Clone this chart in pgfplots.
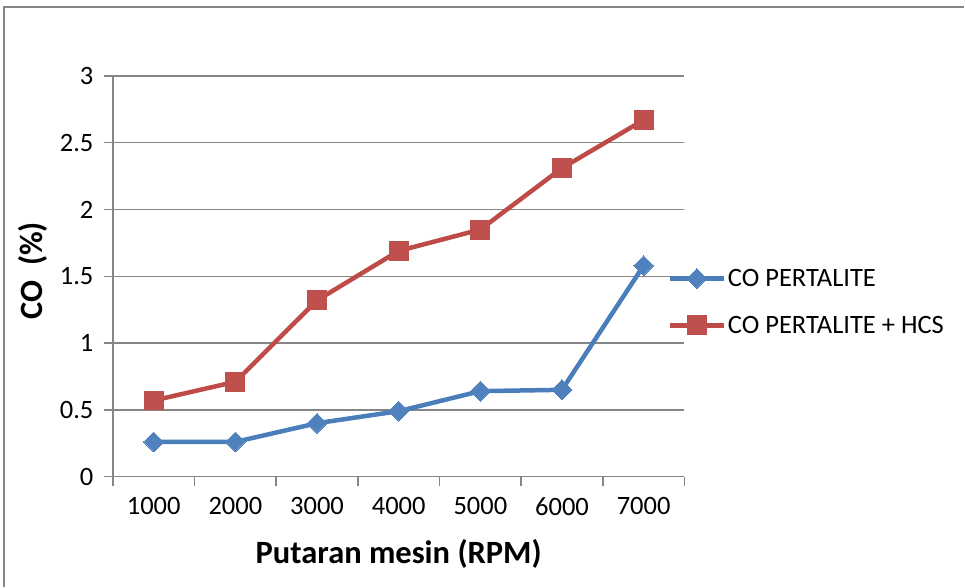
\documentclass[border=0pt]{standalone}
\usepackage{pgfplots}
\pgfplotsset{compat=1.18}
\usepackage{fontspec}
\setmainfont{Carlito}
\definecolor{gridgray}{HTML}{868686}
\definecolor{bluel}{HTML}{4A7EBB}
\definecolor{bluem}{HTML}{4F81BD}
\definecolor{redl}{HTML}{BE4B48}
\definecolor{redm}{HTML}{C0504D}
\begin{document}
\begin{tikzpicture}[x=1pt,y=1pt]
\path (0,0) rectangle (965,587);
\draw[gridgray, line width=1.5pt] (4,0) -- (4,580) -- (965,580);
\begin{axis}[
  at={(113pt,110pt)}, anchor=origin,
  scale only axis, width=572pt, height=401pt,
  xmin=0.5, xmax=7.5, ymin=0, ymax=3,
  axis x line=bottom, axis y line=left,
  axis line style={-, gridgray, line width=1.5pt},
  xtick={1,...,7},
  xticklabels={1000,2000,3000,4000,5000,6000,7000},
  major x tick style={draw=none},
  minor xtick={0.5,1.5,...,7.5},
  minor x tick style={gridgray, line width=1.5pt},
  ytick={0,0.5,...,3},
  y tick style={gridgray, line width=1.5pt},
  tick align=outside,
  major tick length=9pt, minor tick length=9pt,
  ymajorgrids, grid style={gridgray, line width=1.5pt},
  tick label style={font=\fontsize{26.5}{30}\selectfont, text=black},
  yticklabel style={/pgf/number format/fixed, xshift=-7pt},
  xticklabel style={yshift=-8pt},
  /pgf/number format/assume math mode=true,
  xlabel={\textbf{Putaran mesin (RPM)}},
  ylabel={\textbf{CO\ \ (\%)}},
  label style={font=\fontsize{32.5}{36}\selectfont},
  xlabel style={at={(axis description cs:0.5,-0.192)}, anchor=center},
  ylabel style={at={(axis description cs:-0.140,0.514)}, anchor=center},
  legend style={draw=none, fill=none, at={(0.97,0.436)}, anchor=west,
    font=\fontsize{26.5}{30}\selectfont, row sep=24pt, inner sep=0pt,
    nodes={inner sep=2pt}},
  legend cell align=left,
  legend image code/.code={
    \draw[mark repeat=2,mark phase=2] plot coordinates {(0pt,0pt) (27pt,0pt) (54pt,0pt)};
  },
  clip=false,
]
\addplot[bluel, line width=4.5pt, mark=square*, mark size=7pt,
  mark options={fill=bluem, draw=bluem, line width=0pt, rotate=45}]
  coordinates {(1,0.26) (2,0.26) (3,0.40) (4,0.49) (5,0.64) (6,0.65) (7,1.58)};
\addlegendentry{CO PERTALITE}
\addplot[redl, line width=4.5pt, mark=square*, mark size=9.5pt,
  mark options={fill=redm, draw=redm, line width=0pt}]
  coordinates {(1,0.57) (2,0.71) (3,1.32) (4,1.69) (5,1.85) (6,2.31) (7,2.67)};
\addlegendentry{CO PERTALITE + HCS}
\end{axis}
\end{tikzpicture}
\end{document}
